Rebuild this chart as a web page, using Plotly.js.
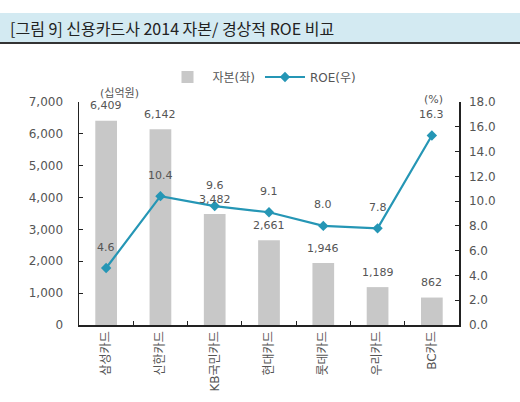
<!DOCTYPE html>
<html><head><meta charset="utf-8">
<script src="https://cdn.plot.ly/plotly-3.0.1.min.js"></script>
<style>html,body{margin:0;padding:0;background:#fff}#c{width:520px;height:402px}</style>
</head><body><div id="c"></div>
<script>
var categories = ['삼성카드','신한카드','KB국민카드','현대카드','롯데카드','우리카드','BC카드'];
var capital = [6409, 6142, 3482, 2661, 1946, 1189, 862];
var roe = [4.6, 10.4, 9.6, 9.1, 8.0, 7.8, 15.3];
var roeLabels = ['4.6','10.4','9.6','9.1','8.0','7.8','16.3'];
var leftTicks = [0,1000,2000,3000,4000,5000,6000,7000];
var rightTicks = [0,2,4,6,8,10,12,14,16,18];

var FONT = 'DejaVu Sans, Noto Sans CJK KR, sans-serif';
var W = 520, H = 402, L = 79, R = 61, T = 102, B = 77;
var pw = W - L - R, ph = H - T - B;
function px(x){ return (x - L) / pw; }
function py(y){ return (H - B - y) / ph; }

var traces = [
  {type:'bar', x:categories, y:capital, name:'자본(좌)', width:0.4,
   marker:{color:'#c8c8c8'}, hoverinfo:'none'},
  {type:'scatter', mode:'lines+markers', x:categories, y:roe, yaxis:'y2', name:'ROE(우)',
   line:{color:'#2596b5', width:2.2}, marker:{symbol:'diamond', size:8, color:'#2596b5'}, hoverinfo:'none'}
];

var ann = [];
categories.forEach(function(c,i){
  ann.push({x:c, y:capital[i], xref:'x', yref:'y', text:capital[i].toLocaleString('en-US'),
    showarrow:false, yanchor:'middle', yshift:15, font:{family:FONT, size:11, color:'#555'}});
  ann.push({x:c, y:roe[i], xref:'x', yref:'y2', text:roeLabels[i],
    showarrow:false, yanchor:'middle', yshift:21, font:{family:FONT, size:11, color:'#555'}});
});
ann.push({xref:'paper', yref:'paper', x:px(98), y:py(85), text:'(십억원)', showarrow:false,
  font:{family:FONT, size:11, color:'#555'}});
ann.push({xref:'paper', yref:'paper', x:px(445), y:py(91), text:'(%)', showarrow:false,
  font:{family:FONT, size:11, color:'#555'}});

var layout = {
  width:W, height:H,
  margin:{l:L, r:R, t:T, b:B, pad:0},
  paper_bgcolor:'#fff', plot_bgcolor:'#fff',
  font:{family:FONT, size:12, color:'#555'},
  title:{text:'[그림 9] 신용카드사 2014 자본/ 경상적 ROE 비교', x:10/W, xanchor:'left',
    xref:'container', yref:'container', y:1-29/H, yanchor:'middle',
    font:{family:'Noto Sans CJK KR, sans-serif', size:16, color:'#222'}},
  showlegend:true,
  legend:{orientation:'h', x:px(262), y:py(77), xanchor:'center', yanchor:'middle',
    font:{family:FONT, size:12, color:'#555'}, itemwidth:40, bgcolor:'rgba(0,0,0,0)'},
  xaxis:{type:'category', showline:true, linecolor:'#222', linewidth:1.5, ticks:'inside',
    tickson:'boundaries', ticklen:4, tickcolor:'#222', tickangle:-90, showgrid:false,
    tickfont:{family:FONT, size:12, color:'#555'}, zeroline:false},
  yaxis:{range:[0,7000], tickvals:leftTicks, tickformat:',d', showline:true, linecolor:'#222', linewidth:1.5,
    ticks:'inside', ticklen:4, tickcolor:'#222', showgrid:false, zeroline:false,
    ticklabelstandoff:12, tickfont:{family:FONT, size:12, color:'#555'}},
  yaxis2:{range:[0,18], tickvals:rightTicks, tickformat:'.1f', overlaying:'y', side:'right',
    showline:true, linecolor:'#222', linewidth:1.5, ticks:'inside', ticklen:4, tickcolor:'#222',
    showgrid:false, zeroline:false, ticklabelstandoff:6, tickfont:{family:FONT, size:12, color:'#555'}},
  shapes:[
    {type:'rect', xref:'paper', yref:'paper', x0:px(0), x1:px(W), y0:py(42), y1:py(13),
      fillcolor:'#d3eaf2', line:{width:0}, layer:'below'},
    {type:'line', xref:'paper', yref:'paper', x0:px(0), x1:px(W), y0:py(43), y1:py(43),
      line:{color:'#333', width:2}}
  ],
  annotations:ann
};
Plotly.newPlot('c', traces, layout, {displayModeBar:false, staticPlot:true});
</script></body></html>
